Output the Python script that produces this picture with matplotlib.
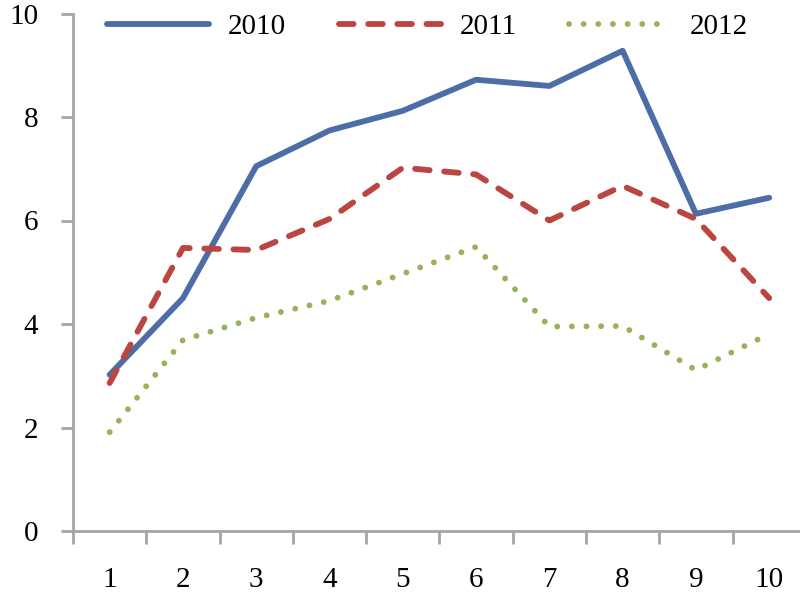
import numpy as np
import matplotlib.pyplot as plt

categories = [1, 2, 3, 4, 5, 6, 7, 8, 9, 10]
series_2010 = [3.02, 4.5, 7.05, 7.74, 8.12, 8.72, 8.6, 9.28, 6.13, 6.44]
series_2011 = [2.86, 5.47, 5.43, 6.03, 7.02, 6.89, 6.0, 6.67, 6.03, 4.5]
series_2012 = [1.91, 3.69, 4.12, 4.45, 4.97, 5.49, 3.95, 3.96, 3.11, 3.81]

plt.rcParams["font.family"] = ["Liberation Serif", "DejaVu Serif"]

fig = plt.figure(figsize=(8, 6), dpi=100)
# axes runs slightly past the right edge of the figure, like the source
ax = fig.add_axes([0.0913, 0.115, 0.916, 0.8625])

x = np.array(categories)
lw = 4.2
ax.plot(x, series_2010, color="#4D6DA6", lw=lw, solid_capstyle="round",
        solid_joinstyle="round", label="2010")
ax.plot(x, series_2011, color="#BA4541", lw=lw, dashes=(2.5, 2.5),
        dash_capstyle="round", label="2011")
ax.plot(x, series_2012, color="#95B35A", lw=lw, dashes=(0.01, 2.5),
        dash_capstyle="round", label="2012")

ax.set_xlim(0.5, 10.5)
ax.set_ylim(0, 10)
ax.set_yticks(np.arange(0, 11, 2))
ax.set_xticks(np.arange(0.5, 11, 1))
ax.set_xticklabels([])
ax.set_xticks(x, minor=True)
ax.set_xticklabels([str(c) for c in categories], minor=True)

grey = "#A8A4A2"
ax.tick_params(axis="x", which="major", length=9, width=2, color=grey, direction="out")
ax.tick_params(axis="x", which="minor", length=0, pad=26, labelsize=21)
ax.tick_params(axis="y", length=9, width=2, color=grey, direction="out", labelsize=21, pad=16)

for side in ["top", "right"]:
    ax.spines[side].set_visible(False)
for side in ["left", "bottom"]:
    ax.spines[side].set_color(grey)
    ax.spines[side].set_linewidth(2)

ax.legend(loc="center left", ncol=3, frameon=False, fontsize=21, handlelength=3.5,
          columnspacing=1.8, handletextpad=0.65, borderaxespad=0,
          bbox_to_anchor=(0.119, 0.955), bbox_transform=fig.transFigure)

fig.savefig("out.png", dpi=100)
